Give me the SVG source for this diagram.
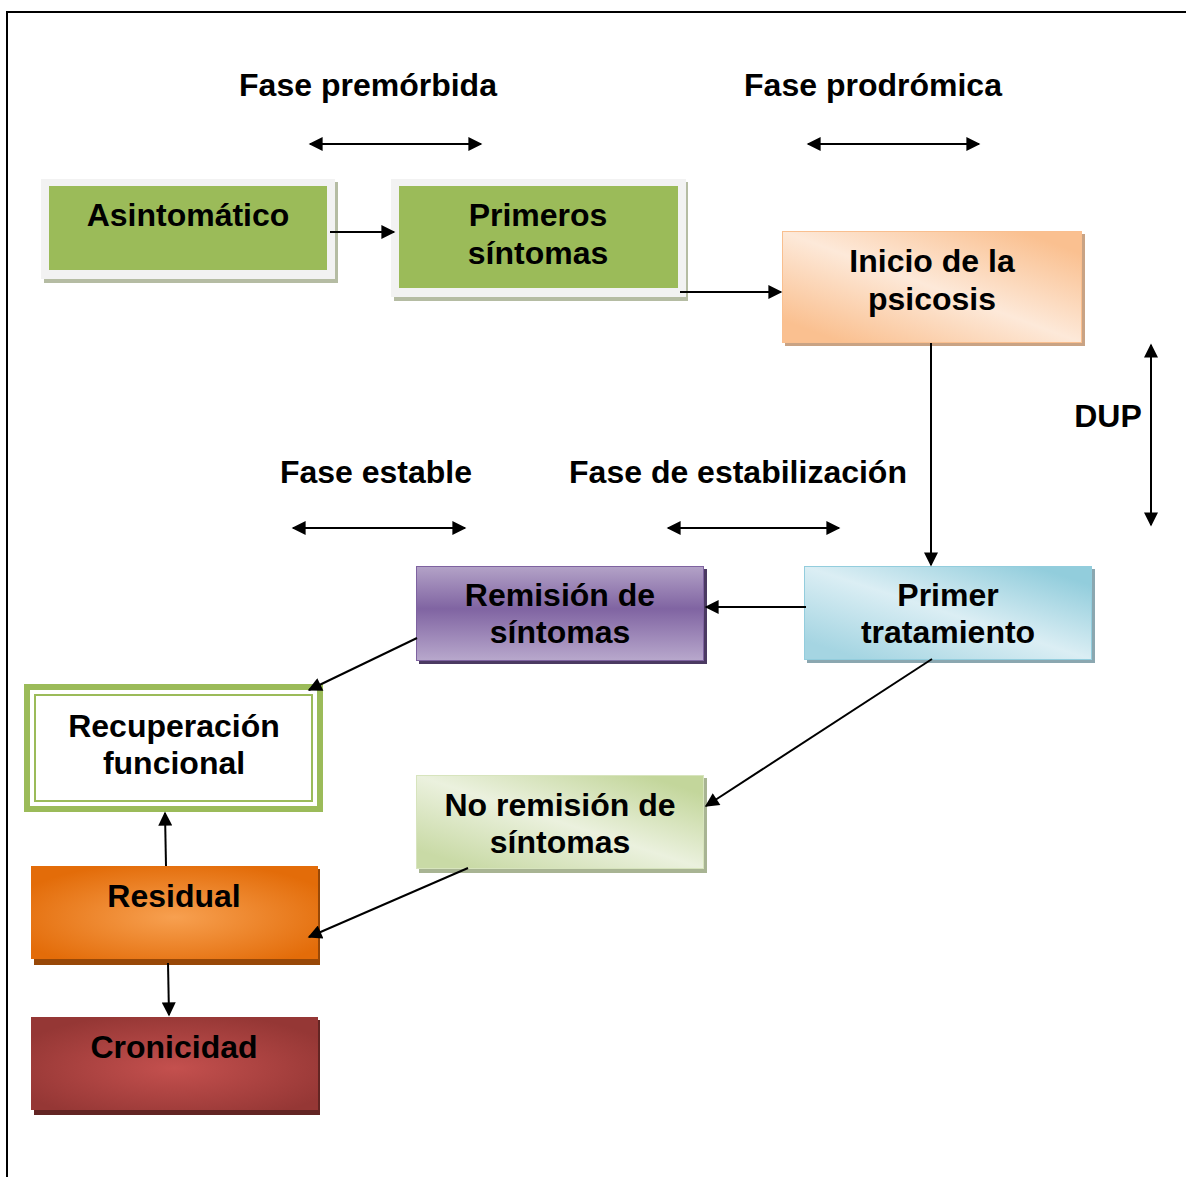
<svg xmlns="http://www.w3.org/2000/svg" width="1186" height="1177" viewBox="0 0 1186 1177">
<style>
text{font-family:"Liberation Sans",Arial,sans-serif;font-weight:bold;font-size:32px;fill:#000;text-anchor:middle}
.ln{stroke:#000;stroke-width:2;fill:none}
</style>
<defs>
<marker id="ah" viewBox="0 0 10 10" refX="9" refY="5" markerWidth="7.5" markerHeight="7" markerUnits="strokeWidth" orient="auto-start-reverse"><path d="M0,0L10,5L0,10z" fill="#000"/></marker>
<linearGradient id="gOr" x1="0" y1="1" x2="1" y2="0"><stop offset="0.1" stop-color="#FAC090"/><stop offset="0.5" stop-color="#FDE9D9"/><stop offset="0.9" stop-color="#FAC090"/></linearGradient>
<linearGradient id="gBl" x1="0" y1="1" x2="1" y2="0"><stop offset="0.1" stop-color="#A5D5E2"/><stop offset="0.5" stop-color="#DBEEF4"/><stop offset="0.9" stop-color="#92CDDC"/></linearGradient>
<linearGradient id="gGr" x1="0" y1="1" x2="1" y2="0"><stop offset="0.1" stop-color="#C9DAA6"/><stop offset="0.5" stop-color="#EBF1DE"/><stop offset="0.9" stop-color="#C3D69B"/></linearGradient>
<linearGradient id="gPu" x1="0" y1="0" x2="0" y2="1"><stop offset="0" stop-color="#B3A2C7"/><stop offset="0.45" stop-color="#8064A2"/><stop offset="1" stop-color="#B8A8CC"/></linearGradient>
<radialGradient id="gRe" cx="0.5" cy="0.55" r="0.6"><stop offset="0" stop-color="#F7A050"/><stop offset="1" stop-color="#E36C09"/></radialGradient>
<radialGradient id="gCr" cx="0.5" cy="0.55" r="0.6"><stop offset="0" stop-color="#C4504E"/><stop offset="1" stop-color="#953735"/></radialGradient>
</defs>
<rect width="1186" height="1177" fill="#fff"/>
<path d="M7,1177V12H1186" fill="none" stroke="#000" stroke-width="2"/>

<g id="labels">
<text x="368" y="96">Fase premórbida</text>
<text x="873" y="96">Fase prodrómica</text>
<text x="376" y="483">Fase estable</text>
<text x="738" y="483">Fase de estabilización</text>
<text x="1108" y="427">DUP</text>
</g>

<g id="asintomatico">
<rect x="44" y="182" width="294" height="101" fill="#B5BCA3"/>
<rect x="41" y="179" width="294" height="100" fill="#F2F2F2"/>
<rect x="49" y="186" width="278" height="84" fill="#9BBB59"/>
<text x="188" y="226">Asintomático</text>
</g>

<g id="primeros">
<rect x="394" y="182" width="294" height="119" fill="#B5BCA3"/>
<rect x="391" y="179" width="295" height="118" fill="#F2F2F2"/>
<rect x="399" y="186" width="279" height="102" fill="#9BBB59"/>
<text x="538" y="226">Primeros</text>
<text x="538" y="264">síntomas</text>
</g>

<g id="inicio">
<rect x="785" y="234" width="300" height="112" fill="#C9A384"/>
<rect x="782.5" y="231.5" width="299" height="111" fill="url(#gOr)" stroke="#F9BF8F" stroke-width="1"/>
<text x="932" y="272">Inicio de la</text>
<text x="932" y="310">psicosis</text>
</g>

<g id="primer">
<rect x="807" y="569" width="288" height="94" fill="#8BA7B0"/>
<rect x="804.5" y="566.5" width="287" height="93" fill="url(#gBl)" stroke="#93CDDD" stroke-width="1"/>
<text x="948" y="606">Primer</text>
<text x="948" y="643">tratamiento</text>
</g>

<g id="remision">
<rect x="419" y="569" width="288" height="95" fill="#4B3A62"/>
<rect x="416.5" y="566.5" width="287" height="94" fill="url(#gPu)" stroke="#7E62A0" stroke-width="1"/>
<text x="560" y="606">Remisión de</text>
<text x="560" y="643">síntomas</text>
</g>

<g id="recuperacion">
<rect x="27" y="687" width="293" height="122" fill="#fff" stroke="#9BBB59" stroke-width="6"/>
<rect x="35" y="695" width="277" height="106" fill="#fff" stroke="#9BBB59" stroke-width="2"/>
<text x="174" y="737">Recuperación</text>
<text x="174" y="774">funcional</text>
</g>

<g id="noremision">
<rect x="419" y="778" width="288" height="95" fill="#A8B493"/>
<rect x="416.5" y="775.5" width="287" height="93" fill="url(#gGr)" stroke="#D7E4BD" stroke-width="1"/>
<text x="560" y="816">No remisión de</text>
<text x="560" y="853">síntomas</text>
</g>

<g id="residual">
<rect x="34" y="869" width="286" height="96" fill="#984807"/>
<rect x="31" y="866" width="287" height="93" fill="url(#gRe)"/>
<text x="174" y="907">Residual</text>
</g>

<g id="cronicidad">
<rect x="34" y="1020" width="286" height="95" fill="#632523"/>
<rect x="31" y="1017" width="287" height="93" fill="url(#gCr)"/>
<text x="174" y="1058">Cronicidad</text>
</g>

<g id="connectors">
<line class="ln" x1="310" y1="144" x2="481" y2="144" marker-start="url(#ah)" marker-end="url(#ah)"/>
<line class="ln" x1="808" y1="144" x2="979" y2="144" marker-start="url(#ah)" marker-end="url(#ah)"/>
<line class="ln" x1="293" y1="528" x2="465" y2="528" marker-start="url(#ah)" marker-end="url(#ah)"/>
<line class="ln" x1="668" y1="528" x2="839" y2="528" marker-start="url(#ah)" marker-end="url(#ah)"/>
<line class="ln" x1="1151" y1="345" x2="1151" y2="525" marker-start="url(#ah)" marker-end="url(#ah)"/>
<line class="ln" x1="330" y1="232" x2="394" y2="232" marker-end="url(#ah)"/>
<line class="ln" x1="680" y1="292" x2="781" y2="292" marker-end="url(#ah)"/>
<line class="ln" x1="931" y1="343" x2="931" y2="565" marker-end="url(#ah)"/>
<line class="ln" x1="806" y1="607" x2="706" y2="607" marker-end="url(#ah)"/>
<line class="ln" x1="417" y1="638" x2="309" y2="690" marker-end="url(#ah)"/>
<line class="ln" x1="932" y1="659" x2="706" y2="806" marker-end="url(#ah)"/>
<line class="ln" x1="468" y1="868" x2="309" y2="937" marker-end="url(#ah)"/>
<line class="ln" x1="166" y1="866" x2="165" y2="813" marker-end="url(#ah)"/>
<line class="ln" x1="168" y1="963" x2="169" y2="1015" marker-end="url(#ah)"/>
</g>
</svg>
